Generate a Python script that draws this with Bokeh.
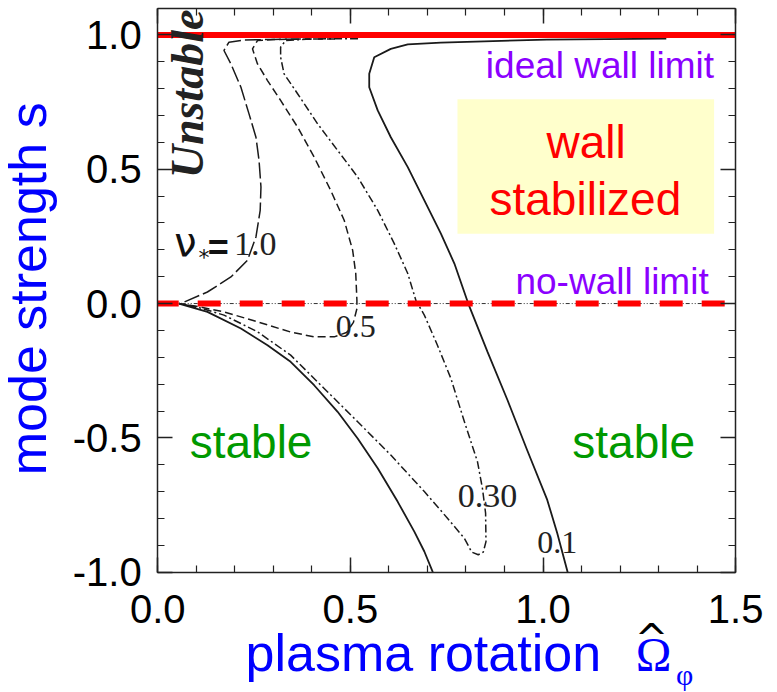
import math
from bokeh.plotting import figure
from bokeh.models import (LinearAxis, SingleIntervalTicker, PrintfTickFormatter,
                          CustomJSTickFormatter, Label, Range1d)
from bokeh.embed import file_html
from bokeh.resources import INLINE

# ---------------- data ----------------
x_start, x_end = 0.0, 1.5
y_start, y_end = -1.0, 1.097
# visible window around the axes box (room for tick labels and titles)
view_x = (-0.408, 1.606)
view_y = (-1.444, 1.128)

ideal_wall_limit = 1.0
no_wall_limit = 0.0

# nu* = 1.0 (long dashed)
nu10_x = [0.100, 0.060, 0.129, 0.190, 0.233, 0.255, 0.266, 0.268, 0.263, 0.255,
          0.237, 0.216, 0.190, 0.172, 0.185, 0.224, 0.300, 0.400]
nu10_y = [-0.015, 0.000, 0.043, 0.099, 0.161, 0.248, 0.347, 0.434, 0.533, 0.619,
          0.706, 0.805, 0.892, 0.942, 0.973, 0.981, 0.983, 0.985]

# nu* = 0.5 (short dashed)
nu05_x = [0.460, 0.300, 0.259, 0.246, 0.259, 0.285, 0.319, 0.363, 0.406, 0.449,
          0.484, 0.506, 0.514, 0.517, 0.517, 0.508, 0.490, 0.458, 0.406, 0.345,
          0.259, 0.172, 0.100, 0.055]
nu05_y = [0.985, 0.983, 0.979, 0.948, 0.892, 0.830, 0.756, 0.657, 0.545, 0.421,
          0.310, 0.198, 0.112, 0.012, -0.019, -0.070, -0.108, -0.124, -0.124, -0.106,
          -0.068, -0.031, -0.010, 0.000]

# nu* = 0.30 (dash-dot)
nu03_x = [0.520, 0.400, 0.332, 0.319, 0.319, 0.328, 0.363, 0.415, 0.467, 0.519,
          0.571, 0.614, 0.649, 0.670, 0.692, 0.726, 0.761, 0.796, 0.830, 0.843,
          0.851, 0.852, 0.845, 0.832, 0.815, 0.796, 0.752, 0.692, 0.605, 0.519,
          0.432, 0.345, 0.259, 0.172, 0.100, 0.055]
nu03_y = [0.986, 0.985, 0.979, 0.954, 0.917, 0.855, 0.781, 0.669, 0.570, 0.471,
          0.347, 0.223, 0.112, 0.012, -0.043, -0.155, -0.279, -0.440, -0.589, -0.690,
          -0.780, -0.886, -0.925, -0.935, -0.925, -0.874, -0.799, -0.700, -0.564, -0.440,
          -0.316, -0.192, -0.105, -0.043, -0.012, 0.000]

# nu* = 0.1 (solid), two branches
nu01a_x = [1.320, 1.010, 0.870, 0.735, 0.649, 0.605, 0.562, 0.549, 0.549, 0.571,
           0.605, 0.649, 0.692, 0.735, 0.770, 0.806, 0.856, 0.908, 0.959, 1.011,
           1.037, 1.064]
nu01a_y = [0.986, 0.982, 0.977, 0.971, 0.965, 0.948, 0.917, 0.855, 0.805, 0.719,
           0.619, 0.508, 0.384, 0.260, 0.149, 0.000, -0.180, -0.360, -0.546, -0.731,
           -0.855, -1.000]
nu01b_x = [0.055, 0.129, 0.216, 0.285, 0.345, 0.406, 0.467, 0.519, 0.571, 0.623,
           0.666, 0.692, 0.714]
nu01b_y = [0.000, -0.031, -0.093, -0.155, -0.217, -0.304, -0.403, -0.502, -0.613, -0.738,
           -0.849, -0.923, -1.000]

# "wall stabilized" box
box_left, box_right, box_bottom, box_top = [0.778], [1.444], [0.26], [0.76]

# contour labels
contour_texts = ["0.5", "0.30", "0.1"]
contour_lx = [0.514, 0.856, 1.037]
contour_ly = [-0.124, -0.756, -0.929]
contour_fs = [32, 34, 32]

# ---------------- figure ----------------
p = figure(width=776, height=691,
           x_range=Range1d(*view_x), y_range=Range1d(*view_y),
           output_backend="svg", toolbar_location=None, min_border=0)
p.background_fill_color = "white"
p.border_fill_color = "white"
p.xgrid.visible = False
p.ygrid.visible = False
p.outline_line_color = None

bottom_axis = p.below[0]
left_axis = p.left[0]
top_axis = LinearAxis()
right_axis = LinearAxis()
p.add_layout(top_axis, "above")
p.add_layout(right_axis, "right")


def style_axis(ax, show_labels):
    ax.ticker = SingleIntervalTicker(interval=0.5, num_minor_ticks=5)
    ax.major_tick_in = 15
    ax.major_tick_out = 0
    ax.minor_tick_in = 7
    ax.minor_tick_out = 0
    ax.major_tick_line_color = "#222222"
    ax.major_tick_line_width = 1.5
    ax.minor_tick_line_color = "#222222"
    ax.minor_tick_line_width = 1.2
    ax.axis_line_color = "#222222"
    ax.axis_line_width = 1.5
    ax.major_label_text_font = "Liberation Sans"
    ax.major_label_text_color = "black"
    if show_labels:
        ax.formatter = PrintfTickFormatter(format="%.1f")
        ax.major_label_text_font_size = "40px"
    else:
        ax.formatter = CustomJSTickFormatter(code="return ''")
        ax.major_label_text_font_size = "2px"
        ax.major_label_standoff = 0


for ax, lab in ((bottom_axis, True), (left_axis, True), (top_axis, False), (right_axis, False)):
    style_axis(ax, lab)

bottom_axis.fixed_location = y_start
top_axis.fixed_location = y_end
left_axis.fixed_location = x_start
right_axis.fixed_location = x_end
bottom_axis.bounds = (x_start, x_end)
top_axis.bounds = (x_start, x_end)
left_axis.bounds = (y_start, y_end)
right_axis.bounds = (y_start, y_end)
bottom_axis.major_label_standoff = 23
left_axis.major_label_standoff = 16

# yellow box
p.quad(left=box_left, right=box_right, bottom=box_bottom, top=box_top,
       fill_color="#FFFFCC", line_color=None)

# contours
lc = "#1a1a1a"
p.line(nu10_x, nu10_y, line_color=lc, line_width=1.5, line_dash="16 4")
p.line(nu05_x, nu05_y, line_color=lc, line_width=1.5, line_dash="8 4")
p.line(nu03_x, nu03_y, line_color=lc, line_width=1.5, line_dash="8 3 2 3")
p.line(nu01a_x, nu01a_y, line_color=lc, line_width=1.8)
p.line(nu01b_x, nu01b_y, line_color=lc, line_width=1.8)

# limit lines
limit_x = [x_start, x_end]
p.line(limit_x, [no_wall_limit] * 2, line_color="#333333", line_width=1,
       line_dash="4 2 1 2 1 2")
p.line(limit_x, [no_wall_limit] * 2, line_color="#FF0000", line_width=6,
       line_dash="23 19", line_dash_offset=2)
p.line(limit_x, [ideal_wall_limit] * 2, line_color="#FF0000", line_width=6)


def add_label(x, y, text, font="Liberation Sans", size=46, color="black",
              align="left", style="normal", rotated=False):
    shift = 0.32 * size
    p.add_layout(Label(x=x, y=y, text=text, text_font=font,
                       text_font_size=f"{size}px", text_color=color,
                       text_align=align, text_baseline="alphabetic",
                       text_font_style=style,
                       angle=math.pi / 2 if rotated else 0.0,
                       x_offset=-shift if rotated else 0,
                       y_offset=0 if rotated else shift))


purple = "#8B00FF"
red = "#FF0000"
green = "#009900"
blue = "#0000FF"

add_label(1.444, 0.841, "ideal wall limit", size=37, color=purple, align="right")
add_label(1.430, 0.038, "no-wall limit", size=37, color=purple, align="right")
add_label(1.112, 0.548, "wall", size=46, color=red, align="center")
add_label(1.110, 0.336, "stabilized", size=46, color=red, align="center")
add_label(0.083, -0.570, "stable", size=46, color=green)
add_label(1.076, -0.570, "stable", size=46, color=green)
add_label(0.116, 0.78, "Unstable", font="Liberation Serif", size=46, color="#222222",
          align="center", style="bold italic", rotated=True)

# nu* = 1.0 label
add_label(0.043, 0.180, "ν", font="DejaVu Sans", size=40, color="#111111")
add_label(0.106, 0.146, "*", font="DejaVu Sans", size=22, color="#111111")
add_label(0.130, 0.166, "=", font="Liberation Sans", size=36, color="#111111", style="bold")
add_label(0.198, 0.180, "1.0", font="Liberation Serif", size=34, color="#222222")

for t, lx, ly, fs in zip(contour_texts, contour_lx, contour_ly, contour_fs):
    add_label(lx, ly, t, font="Liberation Serif", size=fs, color="#222222", align="center")

# axis titles
add_label(-0.294, 0.055, "mode strength s", size=52, color=blue, align="center", rotated=True)
add_label(0.228, -1.364, "plasma rotation", size=52, color=blue)
add_label(1.241, -1.364, "Ω", font="Liberation Serif", size=48, color=blue)
add_label(1.238, -1.2975, "^", font="DejaVu Sans", size=40, color="black")
add_label(1.345, -1.416, "φ", font="Liberation Serif", size=30, color=blue)

open("out.html", "w").write(file_html(p, INLINE))
